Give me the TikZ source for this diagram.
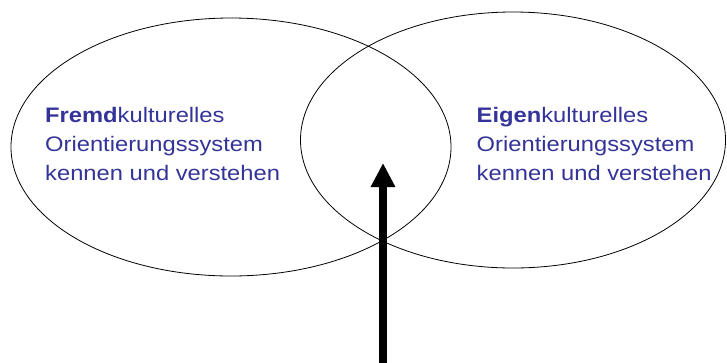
\documentclass[tikz,border=0pt]{standalone}
\usepackage{fontspec}
\setmainfont{Liberation Sans}
\usetikzlibrary{shapes.geometric,arrows.meta}
\definecolor{txtblue}{RGB}{51,51,153}
\tikzset{
  oval/.style={ellipse, draw=black, line width=0.8pt, inner sep=0pt},
  label text/.style={align=left, anchor=north west, inner sep=0pt, text=txtblue,
    font=\fontsize{21}{29}\selectfont, xscale=1.13, transform shape},
  bigarrow/.style={line width=8pt, -{Triangle[width=23pt,length=24pt]}}
}
\begin{document}
\begin{tikzpicture}[x=1pt,y=-1pt]
  \useasboundingbox (0,0) rectangle (727,362);
  \node[oval, minimum width=440pt, minimum height=258pt] (left) at (231,147) {};
  \node[oval, minimum width=425pt, minimum height=256pt] (right) at (513,140) {};
  \node[label text] (lefttext) at (45,107)
    {\textbf{Fremd}kulturelles\\Orientierungssystem\\kennen und verstehen};
  \node[label text] (righttext) at (476.5,107)
    {\textbf{Eigen}kulturelles\\Orientierungssystem\\kennen und verstehen};
  \coordinate (start) at (383,366);
  \coordinate (tip) at (383,163);
  \draw[bigarrow] (start) -- (tip);
\end{tikzpicture}
\end{document}
